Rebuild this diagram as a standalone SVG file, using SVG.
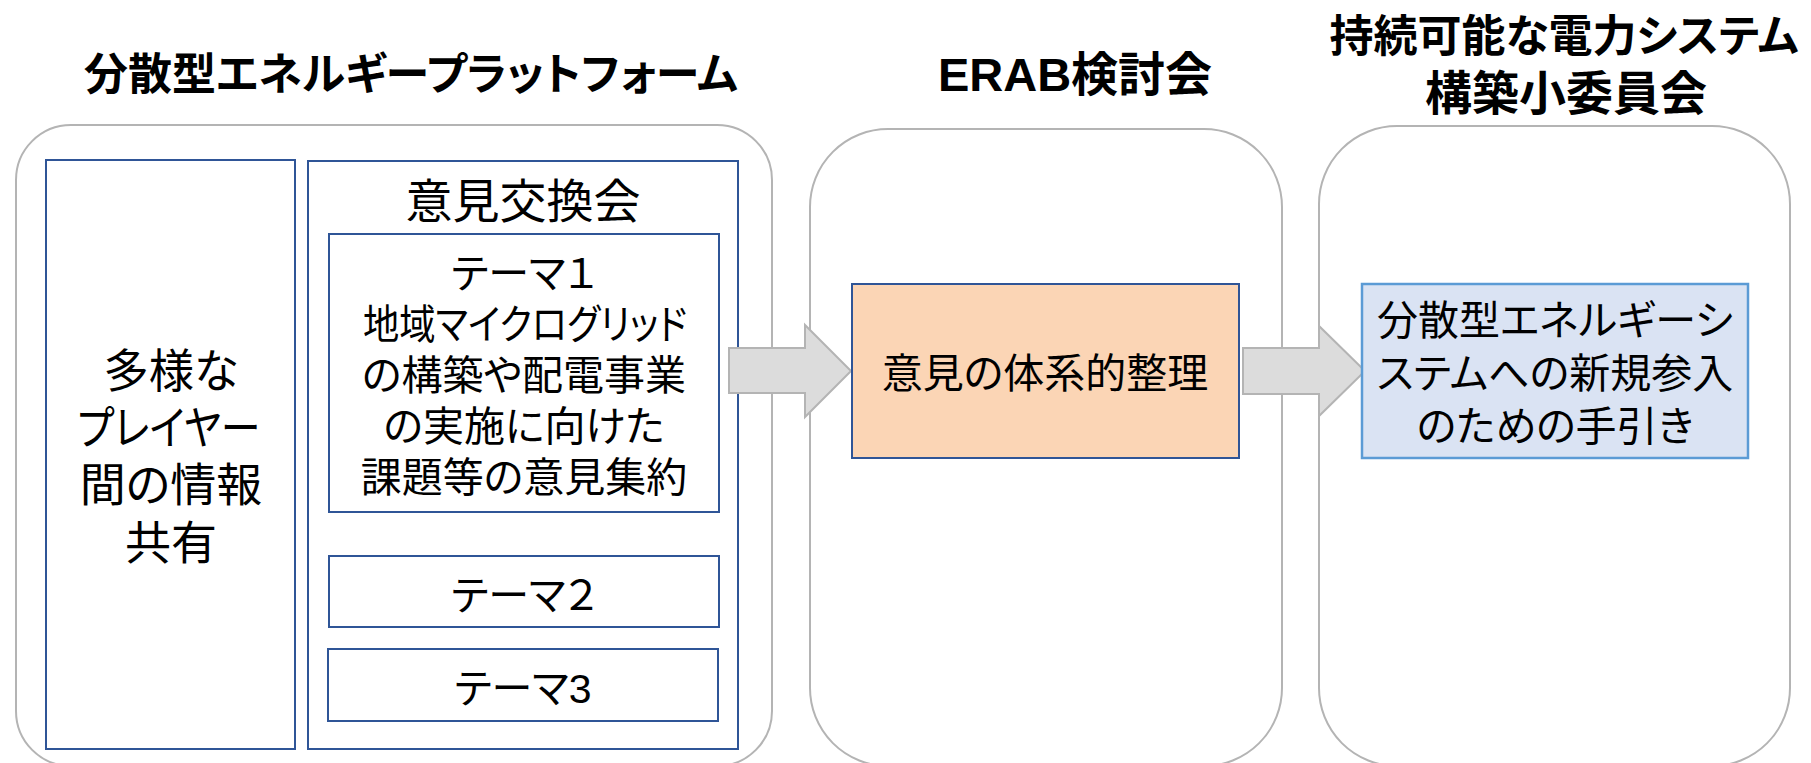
<svg xmlns="http://www.w3.org/2000/svg" width="1811" height="763" viewBox="0 0 1811 763">
<style>
text{font-family:"Liberation Sans","Noto Sans CJK JP","Noto Sans",sans-serif;fill:#000;text-anchor:middle;font-feature-settings:"palt" 1;}
.title{font-size:44px;font-weight:bold;}
.body{font-size:41px;}
.big{font-size:46px;}
.head{font-size:47px;}
.outer{fill:#fff;stroke:#b4b4b4;stroke-width:2;}
.inner{fill:#fff;stroke:#2f5597;stroke-width:2;}
.arrow{fill:#dcdcdc;stroke:#b4b4b4;stroke-width:2;}
</style>
<rect width="1811" height="763" fill="#fff"/>
<g id="titles">
<text class="title" x="411" y="90">分散型エネルギープラットフォーム</text>
<text class="title" x="1075" y="91" style="font-size:47px">ERAB検討会</text>
<text class="title" x="1564" y="52">持続可能な電力システム</text>
<text class="title" x="1566" y="110" style="font-size:47px">構築小委員会</text>
</g>
<g id="platform">
<rect class="outer" x="16" y="125" width="756" height="641" rx="55" ry="55"/>
</g>
<g id="erab">
<rect class="outer" x="810" y="129" width="472" height="637" rx="78" ry="78"/>
</g>
<g id="subcommittee">
<rect class="outer" x="1319" y="126" width="471" height="640" rx="78" ry="78"/>
</g>
<g id="info-sharing">
<rect class="inner" x="46" y="160" width="249" height="589"/>
<text class="big" x="171" y="387" textLength="135" lengthAdjust="spacingAndGlyphs">多様な</text>
<text class="big" x="169" y="444" textLength="183" lengthAdjust="spacingAndGlyphs">プレイヤー</text>
<text class="big" x="171" y="501">間の情報</text>
<text class="big" x="171" y="559">共有</text>
</g>
<g id="exchange">
<rect class="inner" x="308" y="161" width="430" height="588"/>
<text class="head" x="523" y="218">意見交換会</text>
</g>
<g id="theme1">
<rect class="inner" x="329" y="234" width="390" height="278"/>
<text class="body" x="524" y="288">テーマ１</text>
<text class="body" x="525" y="339" textLength="324" lengthAdjust="spacingAndGlyphs">地域マイクログリッド</text>
<text class="body" x="524" y="390">の構築や配電事業</text>
<text class="body" x="524" y="441">の実施に向けた</text>
<text class="body" x="524" y="492">課題等の意見集約</text>
</g>
<g id="theme2">
<rect class="inner" x="329" y="556" width="390" height="71"/>
<text class="body" x="524" y="610">テーマ２</text>
</g>
<g id="theme3">
<rect class="inner" x="328" y="649" width="390" height="72"/>
<text class="body" x="523" y="703">テーマ3</text>
</g>
<g id="connectors">
<polygon class="arrow" points="729,348 805,348 805,325 851,371 805,417 805,393 729,393"/>
<polygon class="arrow" points="1243,348 1319,348 1319,326 1365,371 1319,416 1319,394 1243,394"/>
</g>
<g id="organize">
<rect x="852" y="284" width="387" height="174" fill="#fbd5b5" stroke="#2f5597" stroke-width="2"/>
<text class="body" x="1045" y="388">意見の体系的整理</text>
</g>
<g id="guide">
<rect x="1362" y="284" width="386" height="174" fill="#dae3f3" stroke="#5b9bd5" stroke-width="2.5"/>
<text class="body" x="1555" y="335">分散型エネルギーシ</text>
<text class="body" x="1555" y="388">ステムへの新規参入</text>
<text class="body" x="1555" y="441">のための手引き</text>
</g>
</svg>
